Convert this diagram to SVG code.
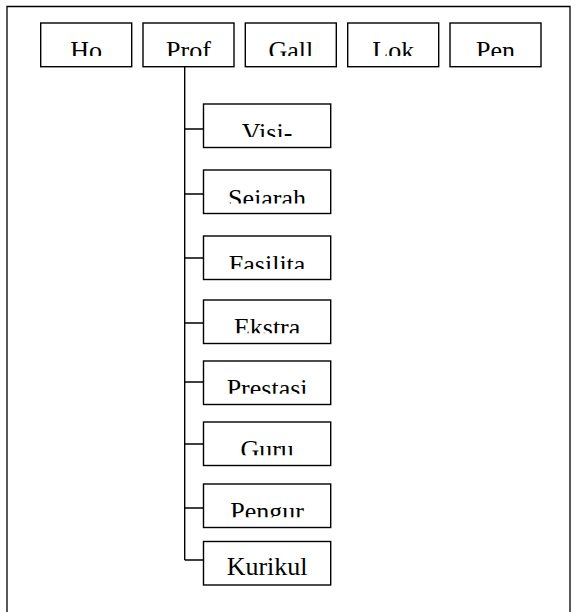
<svg xmlns="http://www.w3.org/2000/svg" width="576" height="612" viewBox="0 0 576 612">
<style>
.box{fill:#fff;stroke:#000;stroke-width:1.4}
.lbl{font-family:"Liberation Serif","Times New Roman",serif;font-size:26px;fill:#000;text-anchor:middle}
.con{fill:none;stroke:#000;stroke-width:1.4}
.frame{fill:none;stroke:#000;stroke-width:1.3}
</style>
<defs>
<clipPath id="cTop" clipPathUnits="userSpaceOnUse"><rect x="0" y="23" width="576" height="33"/></clipPath>
<clipPath id="c1" clipPathUnits="userSpaceOnUse"><rect x="0" y="104" width="576" height="33"/></clipPath>
<clipPath id="c2" clipPathUnits="userSpaceOnUse"><rect x="0" y="170" width="576" height="33.5"/></clipPath>
<clipPath id="c3" clipPathUnits="userSpaceOnUse"><rect x="0" y="236" width="576" height="33"/></clipPath>
<clipPath id="c4" clipPathUnits="userSpaceOnUse"><rect x="0" y="300" width="576" height="33.3"/></clipPath>
<clipPath id="c5" clipPathUnits="userSpaceOnUse"><rect x="0" y="361" width="576" height="32.8"/></clipPath>
<clipPath id="c6" clipPathUnits="userSpaceOnUse"><rect x="0" y="422" width="576" height="33.3"/></clipPath>
<clipPath id="c7" clipPathUnits="userSpaceOnUse"><rect x="0" y="484" width="576" height="33.3"/></clipPath>
<clipPath id="c8" clipPathUnits="userSpaceOnUse"><rect x="0" y="541.5" width="576" height="37"/></clipPath>
</defs>
<rect width="576" height="612" fill="#fff"/>
<path class="frame" d="M7,612 V6.5 H570 V612"/>
<g id="connectors">
<path class="con" d="M184.7,66.7 V560"/>
<path class="con" d="M184.7,129 H203.5 M184.7,194 H203.5 M184.7,258 H203.5 M184.7,323 H203.5 M184.7,382 H203.5 M184.7,444 H203.5 M184.7,508 H203.5 M184.7,560 H203.5"/>
</g>
<g id="home"><rect class="box" x="40.7" y="23" width="91" height="43.7"/><text class="lbl" x="86.2" y="59" clip-path="url(#cTop)">Ho</text></g>
<g id="profil"><rect class="box" x="143" y="23" width="91" height="43.7"/><text class="lbl" x="188.5" y="59" clip-path="url(#cTop)">Prof</text></g>
<g id="gallery"><rect class="box" x="245.3" y="23" width="91" height="43.7"/><text class="lbl" x="290.8" y="59" clip-path="url(#cTop)">Gall</text></g>
<g id="lokasi"><rect class="box" x="347.7" y="23" width="91" height="43.7"/><text class="lbl" x="393.2" y="59" clip-path="url(#cTop)">Lok</text></g>
<g id="pendaftaran"><rect class="box" x="450" y="23" width="91" height="43.7"/><text class="lbl" x="495.5" y="59" clip-path="url(#cTop)">Pen</text></g>
<g id="visi"><rect class="box" x="203.5" y="104" width="127.2" height="43.5"/><text class="lbl" x="267.1" y="140.5" clip-path="url(#c1)">Visi-</text></g>
<g id="sejarah"><rect class="box" x="203.5" y="170" width="127.2" height="43.5"/><text class="lbl" x="267.1" y="206.5" clip-path="url(#c2)">Sejarah</text></g>
<g id="fasilitas"><rect class="box" x="203.5" y="236" width="127.2" height="43.5"/><text class="lbl" x="267.1" y="272.5" clip-path="url(#c3)">Fasilita</text></g>
<g id="ekstra"><rect class="box" x="203.5" y="300" width="127.2" height="43.5"/><text class="lbl" x="267.1" y="336" clip-path="url(#c4)">Ekstra</text></g>
<g id="prestasi"><rect class="box" x="203.5" y="361" width="127.2" height="43.5"/><text class="lbl" x="267.1" y="397" clip-path="url(#c5)">Prestasi</text></g>
<g id="guru"><rect class="box" x="203.5" y="422" width="127.2" height="43.5"/><text class="lbl" x="267.1" y="457.5" clip-path="url(#c6)">Guru</text></g>
<g id="pengurus"><rect class="box" x="203.5" y="484" width="127.2" height="43.5"/><text class="lbl" x="267.1" y="519.5" clip-path="url(#c7)">Pengur</text></g>
<g id="kurikulum"><rect class="box" x="203.5" y="541.5" width="127.2" height="43.5"/><text class="lbl" x="267.1" y="575" clip-path="url(#c8)">Kurikul</text></g>
</svg>
